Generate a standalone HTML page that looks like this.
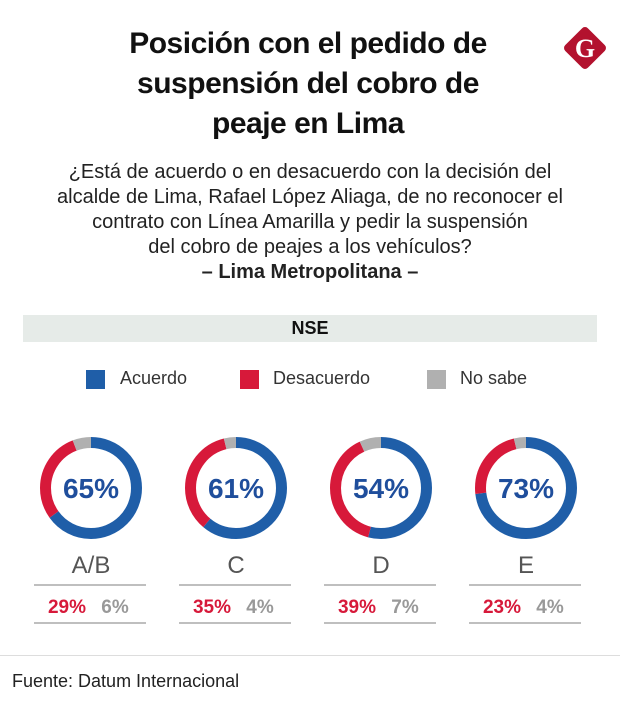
<!DOCTYPE html>
<html><head><meta charset="utf-8"><style>
body{margin:0;width:620px;height:713px;background:#fff;font-family:"Liberation Sans",sans-serif;position:relative;overflow:hidden}
.t{position:absolute;left:0;width:620px;text-align:center}
</style></head><body>
<div class="t" style="top:24px;font-size:30px;font-weight:bold;line-height:40px;color:#111;left:-2px;letter-spacing:-0.5px">Posición con el pedido de<br>suspensión del cobro de<br>peaje en Lima</div>
<svg style="position:absolute;left:561px;top:24px" width="48" height="48"><rect x="8" y="8" width="32" height="32" rx="4" fill="#b3122e" transform="rotate(45 24 24)"/><text x="24" y="33" text-anchor="middle" font-family="Liberation Serif" font-weight="bold" font-size="26" fill="#fff">G</text></svg>
<div class="t" style="top:160px;font-size:20px;line-height:25px;color:#222">¿Está de acuerdo o en desacuerdo con la decisión del<br>alcalde de Lima, Rafael López Aliaga, de no reconocer el<br>contrato con Línea Amarilla y pedir la suspensión<br>del cobro de peajes a los vehículos?<br><b>– Lima Metropolitana –</b></div>
<div style="position:absolute;left:23px;top:315px;width:574px;height:27px;background:#e6ebe8;text-align:center;font-weight:bold;font-size:18px;line-height:27px;color:#111">NSE</div>
<div style="position:absolute;top:368px;left:0;width:620px;font-size:18px;color:#333">
<span style="position:absolute;left:86px;top:2px;width:19px;height:19px;background:#1f5ea8"></span><span style="position:absolute;left:120px;top:0">Acuerdo</span>
<span style="position:absolute;left:240px;top:2px;width:19px;height:19px;background:#d7193a"></span><span style="position:absolute;left:273px;top:0">Desacuerdo</span>
<span style="position:absolute;left:427px;top:2px;width:19px;height:19px;background:#b0b0b0"></span><span style="position:absolute;left:460px;top:0">No sabe</span>
</div>
<svg id="c" style="position:absolute;left:0;top:0" width="620" height="713"></svg>
<div style="position:absolute;left:0;top:655px;width:620px;height:1px;background:#ddd"></div>
<div style="position:absolute;left:12px;top:671px;font-size:18px;color:#222">Fuente: Datum Internacional</div>
<script>
const categories=["A/B","C","D","E"];
const acuerdo=[65,61,54,73];
const desacuerdo=[29,35,39,23];
const nosabe=[6,4,7,4];
const svg=document.getElementById('c');
const NS='http://www.w3.org/2000/svg';
const cx0=91,dx=145,cy=488,r=45.5,sw=11;
const C=2*Math.PI*r;
function mk(t,a){const e=document.createElementNS(NS,t);for(const k in a)e.setAttribute(k,a[k]);svg.appendChild(e);return e;}
categories.forEach((cat,i)=>{
 const cx=cx0+i*dx;
 const vals=[acuerdo[i],desacuerdo[i],nosabe[i]];const cols=['#1f5ea8','#d7193a','#b0b0b0'];
 const tot=vals.reduce((a,b)=>a+b,0);let off=0;
 vals.forEach((v,j)=>{const len=v/tot*C;
  const s=mk('circle',{cx:cx,cy:cy,r:r,fill:'none',stroke:cols[j],'stroke-width':sw,'stroke-dasharray':len+' '+(C-len),'stroke-dashoffset':-off,transform:'rotate(-90 '+cx+' '+cy+')'});
  
  
  off+=len;});
 const t=mk('text',{x:cx,y:cy+10,'text-anchor':'middle','font-size':28,'font-weight':'bold',fill:'#1f4e9c','font-family':'Liberation Sans'});t.textContent=acuerdo[i]+'%';
 
 
 const l=mk('text',{x:cx,y:573,'text-anchor':'middle','font-size':24,fill:'#555','font-family':'Liberation Sans'});l.textContent=cat;
 
 
 mk('line',{x1:cx-57,x2:cx+55,y1:585,y2:585,stroke:'#aaa','stroke-width':1.5});
 mk('line',{x1:cx-57,x2:cx+55,y1:623,y2:623,stroke:'#aaa','stroke-width':1.5});
 const d=mk('text',{x:cx-24,y:613,'text-anchor':'middle','font-size':19,'font-weight':'bold',fill:'#d7193a','font-family':'Liberation Sans'});d.textContent=desacuerdo[i]+'%';
 
 
 const n=mk('text',{x:cx+24,y:613,'text-anchor':'middle','font-size':19,'font-weight':'bold',fill:'#999','font-family':'Liberation Sans'});n.textContent=nosabe[i]+'%';
 
 
});
</script>
</body></html>
